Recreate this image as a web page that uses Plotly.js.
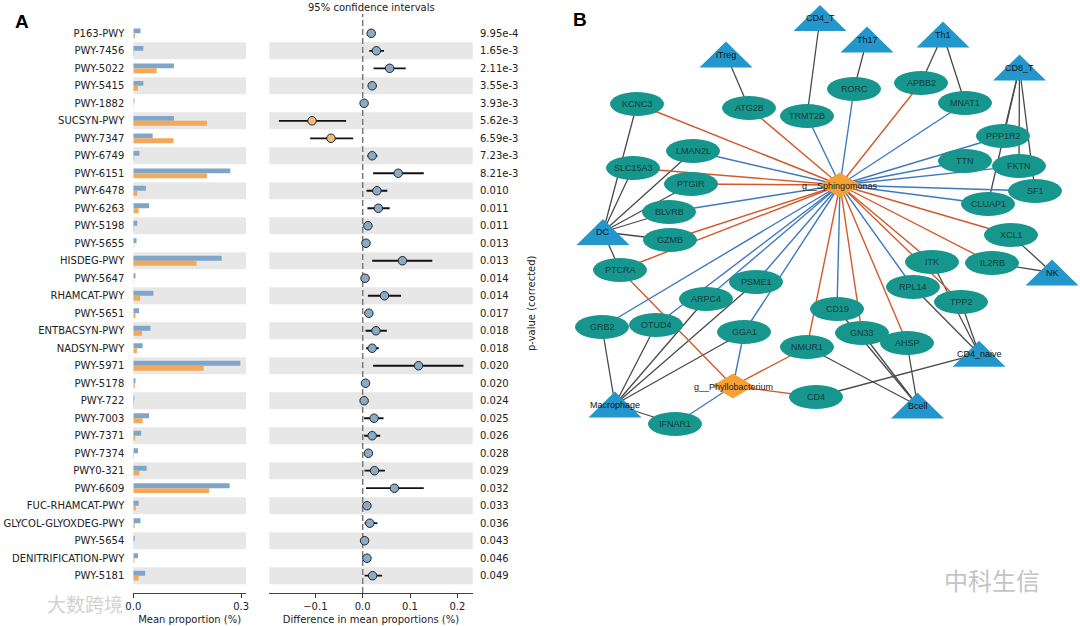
<!DOCTYPE html>
<html><head><meta charset="utf-8">
<script src="https://cdn.plot.ly/plotly-3.0.1.min.js"></script>
<style>html,body{margin:0;padding:0;background:#fff}#chart{width:1080px;height:626px}</style>
</head><body><div id="chart"></div>
<script>
// ---------- Panel A data ----------
const pathways = ["P163-PWY","PWY-7456","PWY-5022","PWY-5415","PWY-1882","SUCSYN-PWY","PWY-7347","PWY-6749","PWY-6151","PWY-6478","PWY-6263","PWY-5198","PWY-5655","HISDEG-PWY","PWY-5647","RHAMCAT-PWY","PWY-5651","ENTBACSYN-PWY","NADSYN-PWY","PWY-5971","PWY-5178","PWY-722","PWY-7003","PWY-7371","PWY-7374","PWY0-321","PWY-6609","FUC-RHAMCAT-PWY","GLYCOL-GLYOXDEG-PWY","PWY-5654","DENITRIFICATION-PWY","PWY-5181"];
const meanBlue = [0.020,0.028,0.113,0.028,0.003,0.113,0.054,0.017,0.270,0.035,0.044,0.011,0.009,0.246,0.006,0.056,0.016,0.048,0.026,0.298,0.006,0.003,0.044,0.022,0.013,0.037,0.268,0.015,0.020,0.004,0.013,0.033];
const meanOrange = [0.005,0.002,0.065,0.013,0.001,0.205,0.112,0.002,0.205,0.011,0.015,0.002,0.001,0.176,0.001,0.019,0.006,0.024,0.010,0.196,0.004,0.002,0.026,0.005,0.002,0.017,0.211,0.007,0.004,0.001,0.003,0.015];
const diffMean = [0.018,0.029,0.057,0.020,0.003,-0.107,-0.067,0.020,0.075,0.030,0.033,0.011,0.007,0.084,0.005,0.046,0.013,0.028,0.020,0.118,0.006,0.003,0.024,0.020,0.012,0.025,0.067,0.009,0.015,0.004,0.009,0.021];
const ciLow = [0.011,0.014,0.023,0.012,0.001,-0.177,-0.111,0.010,0.022,0.008,0.010,0.005,0.003,0.020,0.002,0.011,0.006,0.006,0.007,0.022,0.002,0.001,0.003,0.003,0.004,0.004,0.007,0.003,0.004,0.001,0.004,0.004];
const ciHigh = [0.025,0.045,0.091,0.029,0.005,-0.035,-0.020,0.031,0.129,0.052,0.057,0.017,0.011,0.147,0.008,0.081,0.021,0.051,0.034,0.213,0.009,0.005,0.044,0.037,0.020,0.047,0.129,0.015,0.031,0.007,0.014,0.041];
const pValues = ["9.95e-4","1.65e-3","2.11e-3","3.55e-3","3.93e-3","5.62e-3","6.59e-3","7.23e-3","8.21e-3","0.010","0.011","0.011","0.013","0.013","0.014","0.014","0.017","0.018","0.018","0.020","0.020","0.024","0.025","0.026","0.028","0.029","0.032","0.033","0.036","0.043","0.046","0.049"];
const barTicks = [0, 0.3];
const barTickText = ["0.0", "0.3"];
const diffTicks = [-0.1, 0, 0.1, 0.2];
const diffTickText = ["\u22120.1", "0.0", "0.1", "0.2"];

// ---------- Panel B data (layout positions) ----------
const geneNames = ["KCNC3","ATG2B","TRMT2B","RORC","APBB2","MNAT1","PPP1R2","TTN","FKTN","SF1","CLUAP1","LMAN2L","SLC15A3","PTGIR","BLVRB","GZMB","PTCRA","XCL1","ITK","IL2RB","RPL14","TPP2","PSME1","ARPC4","GRB2","OTUD4","GGA1","CD19","GN33","AHSP","NMUR1","CD4","IFNAR1"];
const geneX = [637,749,807,854,921,965,1003,965,1019,1035,988,693,633,691,669,670,620,1011,932,992,913,961,756,706,602,656,744,837,862,907,807,816,675];
const geneY = [104,108,116,89,83,103,136,161,166,191,204,151,168,184,212,240,270,235,262,263,287,302,282,299,327,325,332,309,333,343,347,397,424];
const cellNames = ["CD4_T","Th17","Th1","iTreg","CD8_T","DC","NK","CD4_naive","Macrophage","Bcell"];
const cellX = [820,867,943,726,1019.5,603,1052,979,615,917.5];
const cellY = [18,39.5,34.5,54.5,67.5,232,272.5,353.7,404.5,405.5];
const taxaNames = ["g__Sphingomonas","g__Phyllobacterium"];
const taxaX = [840,733];
const taxaY = [185,386];
const edgesOrange = [["g__Sphingomonas","KCNC3"],["g__Sphingomonas","ATG2B"],["g__Sphingomonas","APBB2"],["g__Sphingomonas","SLC15A3"],["g__Sphingomonas","PTGIR"],["g__Sphingomonas","GZMB"],["g__Sphingomonas","PTCRA"],["g__Sphingomonas","XCL1"],["g__Sphingomonas","IL2RB"],["g__Sphingomonas","ITK"],["g__Sphingomonas","TPP2"],["g__Sphingomonas","NMUR1"],["g__Sphingomonas","GN33"],["g__Sphingomonas","AHSP"],["g__Phyllobacterium","PTCRA"],["g__Phyllobacterium","NMUR1"],["g__Phyllobacterium","CD4"]];
const edgesBlue = [["g__Sphingomonas","TRMT2B"],["g__Sphingomonas","RORC"],["g__Sphingomonas","MNAT1"],["g__Sphingomonas","PPP1R2"],["g__Sphingomonas","TTN"],["g__Sphingomonas","FKTN"],["g__Sphingomonas","SF1"],["g__Sphingomonas","CLUAP1"],["g__Sphingomonas","LMAN2L"],["g__Sphingomonas","BLVRB"],["g__Sphingomonas","RPL14"],["g__Sphingomonas","PSME1"],["g__Sphingomonas","ARPC4"],["g__Sphingomonas","GRB2"],["g__Sphingomonas","OTUD4"],["g__Sphingomonas","GGA1"],["g__Sphingomonas","CD19"],["g__Phyllobacterium","GGA1"],["g__Phyllobacterium","IFNAR1"]];
const edgesGray = [["iTreg","ATG2B"],["CD4_T","TRMT2B"],["Th17","RORC"],["Th1","APBB2"],["Th1","MNAT1"],["CD8_T","PPP1R2"],["CD8_T","CLUAP1"],["CD8_T","FKTN"],["CD8_T","SF1"],["DC","KCNC3"],["DC","SLC15A3"],["DC","LMAN2L"],["DC","PTGIR"],["DC","BLVRB"],["DC","GZMB"],["DC","PTCRA"],["NK","XCL1"],["NK","IL2RB"],["CD4_naive","RPL14"],["CD4_naive","TPP2"],["CD4_naive","ITK"],["CD4_naive","CD4"],["Macrophage","GRB2"],["Macrophage","OTUD4"],["Macrophage","ARPC4"],["Macrophage","PSME1"],["Macrophage","GGA1"],["Macrophage","IFNAR1"],["Bcell","NMUR1"],["Bcell","GN33"],["Bcell","CD19"],["Bcell","AHSP"]];

// ---------- styles ----------
const C_BLUE_BAR = "#7fa6c9", C_ORANGE_BAR = "#f3a95a";
const C_BLUE_DOT = "#8aabc6", C_ORANGE_DOT = "#eebb78";
const C_BAND = "#e7e7e7";
const C_GENE = "#17968d", C_CELL = "#2397cc", C_TAXA = "#f6a136";
const C_E_OR = "#d2592a", C_E_BL = "#3f78c0", C_E_GR = "#4a4a4a";

const px = (v) => v / 1080;          // horizontal pixel -> paper
const py = (v) => 1 - v / 626;       // vertical pixel -> paper
const rowIdx = pathways.map((_, i) => i);
const nRows = pathways.length;
const rowSp = (575.7 - 33.3) / (nRows - 1);
const yRange = [nRows - 1 + (593 - 575.7) / rowSp, -(33.3 - 18) / rowSp];
const yDomain = [py(593), py(18)];

const traces = [];
traces.push({type: "bar", orientation: "h", x: meanBlue, y: rowIdx, xaxis: "x", yaxis: "y",
  marker: {color: C_BLUE_BAR}, hoverinfo: "skip", showlegend: false});
traces.push({type: "bar", orientation: "h", x: meanOrange, y: rowIdx, xaxis: "x", yaxis: "y",
  marker: {color: C_ORANGE_BAR}, hoverinfo: "skip", showlegend: false});
traces.push({type: "scatter", mode: "markers", x: diffMean, y: rowIdx, xaxis: "x2", yaxis: "y",
  marker: {size: 8.5, color: diffMean.map(d => d < 0 ? C_ORANGE_DOT : C_BLUE_DOT), line: {color: "#222", width: 1}},
  error_x: {type: "data", symmetric: false, array: ciHigh.map((h, i) => h - diffMean[i]),
    arrayminus: diffMean.map((d, i) => d - ciLow[i]), color: "#111", thickness: 1.8, width: 0},
  hoverinfo: "skip", showlegend: false, cliponaxis: false});
// p-value axis carrier (invisible)
traces.push({type: "scatter", mode: "markers", x: diffMean, y: rowIdx, xaxis: "x2", yaxis: "y3",
  marker: {opacity: 0}, hoverinfo: "skip", showlegend: false});

// network
const pos = {};
geneNames.forEach((n, i) => pos[n] = [geneX[i], geneY[i]]);
cellNames.forEach((n, i) => pos[n] = [cellX[i], cellY[i]]);
taxaNames.forEach((n, i) => pos[n] = [taxaX[i], taxaY[i]]);
function edgeTrace(list, color, width) {
  const xs = [], ys = [];
  list.forEach(([a, b]) => { xs.push(pos[a][0], pos[b][0], null); ys.push(pos[a][1], pos[b][1], null); });
  return {type: "scatter", mode: "lines", x: xs, y: ys, xaxis: "x3", yaxis: "y4",
    line: {color: color, width: width}, hoverinfo: "skip", showlegend: false};
}
traces.push(edgeTrace(edgesGray, C_E_GR, 1.3));
traces.push(edgeTrace(edgesBlue, C_E_BL, 1.4));
traces.push(edgeTrace(edgesOrange, C_E_OR, 1.4));

const shapes = [];
rowIdx.forEach(i => {
  if (i % 2 === 1) {
    ["x domain", "x2 domain"].forEach(xr => shapes.push({type: "rect", xref: xr, yref: "y", x0: 0, x1: 1,
      y0: i - 0.49, y1: i + 0.49, fillcolor: C_BAND, line: {width: 0}, layer: "below"}));
  }
});
shapes.push({type: "line", xref: "x2", yref: "paper", x0: 0, x1: 0, y0: py(593), y1: py(14),
  line: {color: "#7a7a7a", width: 1.5, dash: "6px,3px"}, layer: "below"});

const EW = 27, EH = 12, TW = 26.5, TH = 13, DW = 21, DH = 12.5;
geneNames.forEach((n, i) => shapes.push({type: "circle", xref: "x3", yref: "y4",
  x0: geneX[i] - EW, x1: geneX[i] + EW, y0: geneY[i] - EH, y1: geneY[i] + EH,
  fillcolor: C_GENE, line: {width: 0}, layer: "above"}));
cellNames.forEach((n, i) => shapes.push({type: "path", xref: "x3", yref: "y4",
  path: `M ${cellX[i] - TW},${cellY[i] + TH} L ${cellX[i] + TW},${cellY[i] + TH} L ${cellX[i]},${cellY[i] - TH} Z`,
  fillcolor: C_CELL, line: {width: 0}, layer: "above"}));
taxaNames.forEach((n, i) => shapes.push({type: "path", xref: "x3", yref: "y4",
  path: `M ${taxaX[i] - DW},${taxaY[i]} L ${taxaX[i]},${taxaY[i] - DH} L ${taxaX[i] + DW},${taxaY[i]} L ${taxaX[i]},${taxaY[i] + DH} Z`,
  fillcolor: C_TAXA, line: {width: 0}, layer: "above"}));

const NF = {family: "Liberation Sans, Arial, sans-serif", size: 9};
const annotations = [];
geneNames.forEach((n, i) => annotations.push({xref: "x3", yref: "y4", x: geneX[i], y: geneY[i], text: n,
  xanchor: "center", yanchor: "middle", showarrow: false, font: Object.assign({color: "#123c39"}, NF)}));
cellNames.forEach((n, i) => annotations.push({xref: "x3", yref: "y4", x: cellX[i], y: cellY[i], text: n,
  xanchor: "center", yanchor: "middle", showarrow: false, font: Object.assign({color: "#111"}, NF)}));
taxaNames.forEach((n, i) => annotations.push({xref: "x3", yref: "y4", x: taxaX[i], y: taxaY[i] + 1, text: n,
  xanchor: "center", yanchor: "middle", showarrow: false, font: Object.assign({color: "#222"}, NF)}));
function paperNote(x, y, text, font, extra) {
  annotations.push(Object.assign({xref: "paper", yref: "paper", x: px(x), y: py(y), text: text,
    xanchor: "center", yanchor: "middle", showarrow: false, font: font}, extra || {}));
}
paperNote(22, 21, "<b>A</b>", {family: "Liberation Sans, Arial, sans-serif", size: 19, color: "#000"});
paperNote(580, 20, "<b>B</b>", {family: "Liberation Sans, Arial, sans-serif", size: 19, color: "#000"});
paperNote(371, 0, "95% confidence intervals", {size: 10, color: "#222"}, {yanchor: "top"});
paperNote(531, 303, "p-value (corrected)", {size: 10, color: "#222"}, {textangle: -90});
paperNote(992, 579, "中科生信", {family: "Noto Sans CJK SC", size: 24, color: "#c4c4c4"});
paperNote(85, 603, "大数跨境", {family: "Noto Sans CJK SC", size: 19, color: "#d2d2d2"});

const layout = {
  width: 1080, height: 626, margin: {l: 0, r: 0, t: 0, b: 0},
  paper_bgcolor: "#fff", plot_bgcolor: "rgba(0,0,0,0)",
  font: {family: "DejaVu Sans, sans-serif", size: 10, color: "#222"},
  barmode: "group", bargap: 0.44, bargroupgap: 0, hovermode: false, showlegend: false,
  xaxis: {domain: [px(133.3), px(246)], range: [0, (246 - 133.3) / 359.3], anchor: "y",
    tickvals: barTicks, ticktext: barTickText, ticks: "outside", ticklen: 4, tickcolor: "#333",
    showline: true, linecolor: "#444", linewidth: 1, showgrid: false, zeroline: false,
    title: {text: "Mean proportion (%)", font: {size: 10}, standoff: 4}},
  yaxis: {domain: yDomain, range: yRange, anchor: "x", tickvals: rowIdx, ticktext: pathways,
    ticks: "", ticklabelstandoff: 8, showline: false, showgrid: false, zeroline: false},
  xaxis2: {domain: [px(269.3), px(472.7)], range: [-0.1973, 0.2324], anchor: "y",
    tickvals: diffTicks, ticktext: diffTickText, ticks: "outside", ticklen: 4, tickcolor: "#333",
    showline: true, linecolor: "#444", linewidth: 1, showgrid: false, zeroline: false,
    title: {text: "Difference in mean proportions (%)", font: {size: 10}, standoff: 4}},
  yaxis3: {overlaying: "y", side: "right", anchor: "free", position: px(479), range: yRange,
    tickvals: rowIdx, ticktext: pValues, ticks: "", showline: false, showgrid: false, zeroline: false},
  xaxis3: {domain: [px(560), 1], range: [560, 1080], anchor: "y4", visible: false, fixedrange: true},
  yaxis4: {domain: [0, 1], range: [626, 0], anchor: "x3", visible: false, fixedrange: true},
  shapes: shapes, annotations: annotations
};
Plotly.newPlot("chart", traces, layout, {displayModeBar: false, staticPlot: true});
</script></body></html>
